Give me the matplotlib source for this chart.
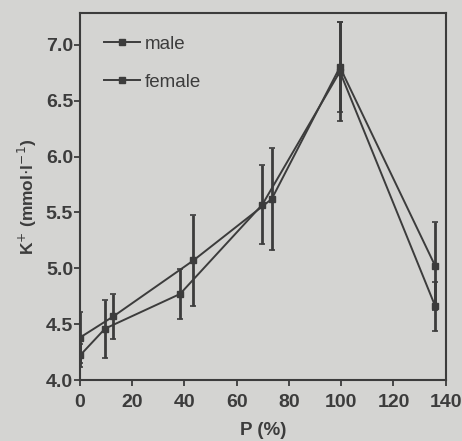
import matplotlib
matplotlib.use("Agg")
import matplotlib.pyplot as plt

# K+ concentration versus P (%) for both sexes, mean +/- SD
male_p = [0, 12.8, 43.4, 73.4, 99.5, 136.0]
male_k = [4.38, 4.57, 5.07, 5.62, 6.80, 5.02]
male_sd = [0.23, 0.20, 0.41, 0.46, 0.40, 0.39]

female_p = [0, 9.6, 38.3, 69.8, 99.5, 136.0]
female_k = [4.22, 4.46, 4.77, 5.57, 6.76, 4.66]
female_sd = [0.10, 0.26, 0.22, 0.35, 0.44, 0.22]

x_ticks = [0, 20, 40, 60, 80, 100, 120, 140]
y_ticks = [4.0, 4.5, 5.0, 5.5, 6.0, 6.5, 7.0]

bg = "#d4d4d2"
ink = "#3c3c3c"

plt.rcParams["font.family"] = ["Liberation Sans", "DejaVu Sans"]

fig = plt.figure(figsize=(4.62, 4.41), dpi=100, facecolor=bg)
ax = fig.add_axes([0.1732, 0.1383, 0.7915, 0.8311], facecolor=bg)

for p, k, sd, lab in [(male_p, male_k, male_sd, "male"),
                      (female_p, female_k, female_sd, "female")]:
    ax.errorbar(p, k, yerr=sd, fmt="none", ecolor=ink, elinewidth=2.0,
                capsize=2.5, capthick=1.2)
    ax.plot(p, k, color=ink, lw=1.4, marker="s", ms=4.5, mfc=ink, mec=ink,
            label=lab)

ax.set_xlim(0, 140)
ax.set_ylim(4.0, 7.28)
ax.set_xticks(x_ticks)
ax.set_yticks(y_ticks)
ax.set_yticklabels([f"{v:.1f}" for v in y_ticks])

for s in ax.spines.values():
    s.set_color(ink)
    s.set_linewidth(1.5)
ax.tick_params(axis="both", direction="out", color=ink, width=1.3, length=4,
               labelcolor=ink, labelsize=14)
ax.tick_params(axis="y", pad=1)
ax.tick_params(axis="x", pad=6)
for t in ax.get_xticklabels() + ax.get_yticklabels():
    t.set_fontweight("bold")

ax.set_xlabel("P (%)", fontsize=13.5, color=ink, fontweight="bold", labelpad=8)
ax.set_ylabel(r"K$^{+}$ (mmol$\cdot$l$^{-1}$)", fontsize=12.5, color=ink,
              fontweight="bold", labelpad=5)

leg = ax.legend(loc="upper left", bbox_to_anchor=(0.02, 0.985), frameon=False,
                fontsize=13.5, handlelength=1.9, handletextpad=0.25,
                labelspacing=1.1, numpoints=1)
for t in leg.get_texts():
    t.set_color(ink)

fig.savefig("out.png", dpi=100, facecolor=bg)
